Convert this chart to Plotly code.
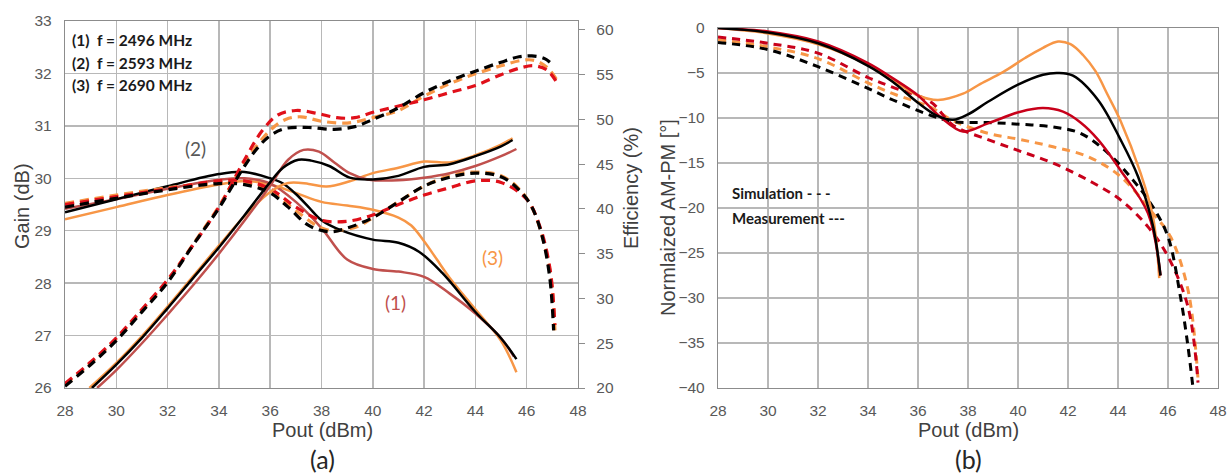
import plotly.graph_objects as go

W, H = 1231, 476

# ---------------- Panel (a): Gain (left axis) ----------------
gm1_x = [28, 30, 32, 34, 35, 36, 37, 38, 39, 40, 41, 42, 43, 44, 45, 45.5]
gm1_y = [29.42, 29.6, 29.8, 29.97, 30.0, 29.9, 29.55, 29.05, 28.45, 28.27, 28.22, 28.12, 27.8, 27.42, 26.95, 26.6]
gm2_x = [28, 30, 32, 34, 35, 36, 36.5, 37, 37.5, 38, 38.8, 40, 41, 41.8, 42.7, 44, 45, 45.6]
gm2_y = [29.35, 29.6, 29.85, 30.08, 30.12, 30.0, 29.9, 29.7, 29.45, 29.2, 29.0, 28.83, 28.77, 28.6, 28.2, 27.45, 26.95, 26.55]
gm3_x = [28, 30, 32, 34, 35, 36, 37, 38, 39, 40, 41, 41.5, 42, 42.5, 43, 44, 45, 45.6]
gm3_y = [29.22, 29.45, 29.68, 29.88, 29.95, 29.88, 29.72, 29.55, 29.48, 29.4, 29.25, 29.1, 28.8, 28.45, 28.1, 27.5, 26.9, 26.3]

gs1_x = [28, 30, 32, 34, 35, 36, 37, 38, 39, 40, 41, 42, 43, 44, 45, 46, 46.5, 46.9, 47.1]
gs1_y = [29.5, 29.65, 29.8, 29.95, 29.95, 29.8, 29.45, 29.2, 29.18, 29.3, 29.5, 29.68, 29.82, 29.95, 29.92, 29.6, 29.1, 28.3, 27.2]
gs2_x = [28, 30, 32, 34, 35, 36, 36.7, 37.5, 38.3, 39, 40, 41, 42, 43, 44, 45, 45.7, 46.2, 46.6, 46.9, 47.05]
gs2_y = [29.45, 29.62, 29.78, 29.9, 29.88, 29.72, 29.45, 29.1, 28.98, 29.05, 29.25, 29.55, 29.85, 30.02, 30.1, 30.03, 29.78, 29.45, 28.9, 28.1, 27.1]
gs3_x = [28, 30, 32, 34, 35, 36, 37, 38, 38.6, 39.5, 40, 41, 42, 43, 44, 45, 45.7, 46.2, 46.6, 46.95, 47.1]
gs3_y = [29.52, 29.68, 29.82, 29.92, 29.92, 29.75, 29.38, 29.05, 29.0, 29.1, 29.25, 29.55, 29.85, 30.05, 30.12, 30.05, 29.8, 29.45, 28.9, 28.1, 27.1]

# ---------------- Panel (a): Efficiency (right axis) ----------------
em1_x = [29.25, 30, 31, 32, 33, 34, 35, 36, 36.7, 37.3, 37.9, 38.5, 39.1, 39.8, 41, 42, 43, 44, 45, 45.6]
em1_y = [20, 22.0, 25.0, 28.2, 31.5, 35.0, 38.7, 42.6, 45.5, 46.6, 46.4, 45.2, 44.0, 43.3, 43.2, 43.5, 44.0, 44.8, 45.9, 46.7]
em2_x = [29.05, 30, 31, 32, 33, 34, 35, 36, 36.5, 37.1, 37.6, 38.3, 39.1, 40, 41, 42, 43, 44, 45, 45.45]
em2_y = [20, 22.6, 25.6, 28.9, 32.3, 35.7, 39.3, 43.0, 44.6, 45.5, 45.4, 44.8, 43.5, 43.3, 43.7, 44.7, 45.0, 45.9, 47.0, 47.7]
em3_x = [28.95, 30, 31, 32, 33, 34, 35, 36, 36.7, 37.5, 38.2, 39.1, 40, 41, 42, 43, 44, 45, 45.45]
em3_y = [20, 22.8, 25.8, 29.1, 32.5, 35.9, 39.2, 41.9, 42.9, 42.8, 42.5, 43.1, 44.0, 44.6, 45.3, 45.2, 46.0, 47.2, 47.9]

es1_x = [28, 29, 30, 31, 32, 33, 34, 35, 35.7, 36.3, 37.0, 37.8, 38.6, 39.3, 40, 41, 42, 43, 44, 45, 45.8, 46.3, 46.8, 47.2]
es1_y = [20.5, 22.9, 25.6, 28.8, 32.1, 36.0, 40.2, 45.5, 48.8, 50.5, 51.0, 50.7, 50.2, 50.2, 50.8, 51.5, 52.2, 53.0, 53.8, 55.0, 55.8, 56.0, 55.5, 54.0]
es2_x = [28, 29, 30, 31, 32, 33, 34, 35, 35.5, 36, 36.6, 37.5, 38.5, 39.3, 40, 41, 42, 43, 44, 45, 45.7, 46.2, 46.7, 47.05]
es2_y = [20.2, 22.6, 25.3, 28.5, 31.8, 36.0, 40.1, 44.8, 46.8, 48.2, 49.0, 49.1, 48.9, 49.2, 50.0, 51.3, 53.0, 54.3, 55.4, 56.4, 57.0, 57.1, 56.8, 56.0]
es3_x = [28, 29, 30, 31, 32, 33, 34, 35, 36, 36.6, 37.2, 38, 39, 40, 41, 42, 43, 44, 45, 45.8, 46.3, 46.8, 47.2]
es3_y = [20.4, 22.8, 25.5, 28.7, 32.0, 36.1, 40.3, 45.2, 48.8, 50.0, 50.3, 49.8, 49.6, 50.2, 51.0, 52.6, 54.0, 55.1, 56.0, 56.6, 56.6, 55.8, 54.3]

# ---------------- Panel (b): AM-PM ----------------
pm1_x = [28, 30, 32, 34, 35, 36, 36.9, 37.8, 38.8, 40.1, 41, 41.8, 42.5, 43.2, 44.1, 45.2, 45.7]
pm1_y = [0, -0.4, -1.5, -3.9, -5.6, -7.5, -9.9, -11.5, -10.6, -9.3, -8.9, -9.3, -10.5, -12.4, -15.8, -20.6, -27.5]
pm2_x = [28, 30, 32, 34, 35, 36, 36.8, 37.4, 38, 38.8, 40, 41, 41.6, 42.2, 43.2, 44.1, 44.8, 45.4, 45.7]
pm2_y = [0, -0.5, -1.7, -4.2, -6.0, -8.3, -9.8, -10.2, -9.6, -8.2, -6.3, -5.2, -5.0, -5.3, -8.0, -12.4, -16.5, -22, -27.5]
pm3_x = [28, 30, 32, 34, 35, 36, 36.8, 37.8, 38.5, 39.4, 40.3, 41, 41.6, 42.1, 42.6, 43.1, 43.6, 44.1, 44.9, 45.4, 45.65]
pm3_y = [0, -0.6, -1.8, -4.1, -5.8, -7.5, -8.0, -7.3, -6.2, -4.9, -3.3, -2.2, -1.5, -1.8, -3.0, -4.8, -7.5, -10.3, -16.1, -21, -27.8]

ps1_x = [28, 30, 32, 34, 35, 36.5, 37.4, 38.8, 40.1, 41.4, 42.8, 44.1, 45.2, 46.0, 46.8, 47.2]
ps1_y = [-1.0, -1.7, -2.8, -5.5, -6.6, -8.2, -10.8, -12.4, -13.7, -15.0, -16.9, -19.1, -22.1, -25.4, -31, -39.4]
ps2_x = [28, 30, 32, 34, 35, 36.5, 37.4, 38.8, 40.1, 41.4, 42.5, 43.6, 44.6, 45.4, 46.0, 46.5, 46.8, 47.0]
ps2_y = [-1.6, -2.4, -4.3, -6.7, -8.0, -9.7, -10.4, -10.5, -10.7, -11.0, -11.7, -13.9, -16.9, -19.9, -23.2, -29.9, -35.4, -40]
ps3_x = [28, 30, 32, 34, 35, 36.5, 37.4, 38.8, 40.1, 41.4, 42.8, 44.1, 45.4, 46.1, 46.8, 47.2]
ps3_y = [-1.3, -2.1, -3.4, -6.1, -7.3, -8.8, -10.3, -11.7, -12.4, -13.2, -14.3, -16.5, -20.6, -23.2, -29.1, -39.0]

legend_lines = ["(1)  f = 2496 MHz", "(2)  f = 2593 MHz", "(3)  f = 2690 MHz"]

BLACK = "#000000"
ORANGE = "#f79646"
RED_A = "#c0504d"
RED_D = "#e0101a"
RED_B = "#c8001a"
GRID = "#b8b8b8"
TICK = "#595959"
DASH = "9px,6px"

fig = go.Figure()

def add(x, y, color, width, dash=None, xa="x", ya="y"):
    fig.add_trace(go.Scatter(
        x=x, y=y, mode="lines", xaxis=xa, yaxis=ya, showlegend=False,
        line=dict(color=color, width=width, dash=dash, shape="spline", smoothing=1.0),
        hoverinfo="skip"))

# Panel (a) efficiency
add(em3_x, em3_y, ORANGE, 2.5, ya="y2")
add(em1_x, em1_y, RED_A, 2.5, ya="y2")
add(em2_x, em2_y, BLACK, 2.5, ya="y2")
add(es3_x, es3_y, ORANGE, 3.2, DASH, ya="y2")
add(es1_x, es1_y, RED_D, 3.2, DASH, ya="y2")
add(es2_x, es2_y, BLACK, 3.2, DASH, ya="y2")
# Panel (a) gain
add(gm3_x, gm3_y, ORANGE, 2.5)
add(gm1_x, gm1_y, RED_A, 2.5)
add(gm2_x, gm2_y, BLACK, 2.5)
add(gs3_x, gs3_y, ORANGE, 3.2, DASH)
add(gs1_x, gs1_y, RED_D, 3.2, DASH)
add(gs2_x, gs2_y, BLACK, 3.2, DASH)

# Panel (b)
add(ps3_x, ps3_y, ORANGE, 3, "8px,6px", xa="x2", ya="y3")
add(ps1_x, ps1_y, RED_B, 3, "8px,6px", xa="x2", ya="y3")
add(ps2_x, ps2_y, BLACK, 3, "8px,6px", xa="x2", ya="y3")
add(pm3_x, pm3_y, ORANGE, 2.5, xa="x2", ya="y3")
add(pm1_x, pm1_y, RED_B, 2.5, xa="x2", ya="y3")
add(pm2_x, pm2_y, BLACK, 2.5, xa="x2", ya="y3")

tickfont = dict(family="Liberation Sans, Arial", size=15.5, color=TICK)

def px_x(p):
    return p / W

def px_y(p):
    return 1 - p / H

axis_common = dict(showgrid=True, gridcolor=GRID, gridwidth=1.5, zeroline=False,
                   showline=True, linecolor="#8c8c8c", linewidth=1.2, mirror=True,
                   tickfont=tickfont, ticks="", automargin=False)

fig.update_layout(
    width=W, height=H,
    margin=dict(l=0, r=0, t=0, b=0, autoexpand=False),
    paper_bgcolor="white", plot_bgcolor="white",
    xaxis=dict(domain=[px_x(65), px_x(578)], range=[28, 48], dtick=2, anchor="y",
               ticklabelstandoff=8, **axis_common),
    yaxis=dict(domain=[px_y(388), px_y(21)], range=[26, 33], dtick=1, anchor="x",
               ticklabelstandoff=9, **axis_common),
    yaxis2=dict(overlaying="y", side="right", anchor="x", range=[20, 61], dtick=5,
                showgrid=False, zeroline=False, showline=True, linecolor="#8c8c8c", linewidth=1.2,
                ticks="outside", ticklen=6, tickcolor="#8c8c8c", tickfont=tickfont,
                ticklabelstandoff=8, automargin=False),
    xaxis2=dict(domain=[px_x(718), px_x(1218)], range=[28, 48], dtick=2, anchor="y3",
                ticklabelstandoff=8, **axis_common),
    yaxis3=dict(domain=[px_y(388), px_y(28)], range=[-40, 0], dtick=5, anchor="x2",
                ticklabelstandoff=9, **axis_common),
)

ann = []
title_font = dict(family="Liberation Sans, Arial", size=20, color="#404040")
cal = "Lato, Open Sans, sans-serif"

def text(x, y, s, font, xanchor="center", angle=0):
    ann.append(dict(x=px_x(x), y=px_y(y), xref="paper", yref="paper", text=s, showarrow=False,
                    xanchor=xanchor, yanchor="middle", font=font, textangle=angle))

text(22, 206, "Gain (dB)", title_font, angle=-90)
text(631, 188, "Efficiency (%)", title_font, angle=-90)
text(668, 218, "Normlaized AM-PM [°]", title_font, angle=-90)
text(322, 430, "Pout (dBm)", title_font)
text(968, 430, "Pout (dBm)", title_font)
text(322, 459, "(a)", dict(family=cal, size=25, color="#262626"))
text(968, 459, "(b)", dict(family=cal, size=25, color="#262626"))

for i, s in enumerate(legend_lines):
    text(70, 40 + i * 22.7, "<b>" + s + "</b>", dict(family=cal, size=15.5, color="#1a1a1a"), xanchor="left")

text(195, 148, "(2)", dict(family=cal, size=19, color="#595959"))
text(492, 257, "(3)", dict(family=cal, size=19, color=ORANGE))
text(395, 302, "(1)", dict(family=cal, size=19, color=RED_A))

text(730, 193, "<b>Simulation - - -</b>", dict(family=cal, size=15, color="#1a1a1a"), xanchor="left")
text(730, 218, "<b>Measurement ---</b>", dict(family=cal, size=15, color="#1a1a1a"), xanchor="left")

fig.update_layout(annotations=ann)
fig.write_html(
    "out.html",
    config={"displayModeBar": False, "staticPlot": True},
    post_script="document.documentElement.style.margin='0';document.body.style.margin='0';"
                "document.body.style.padding='0';document.body.style.overflow='hidden';",
)
